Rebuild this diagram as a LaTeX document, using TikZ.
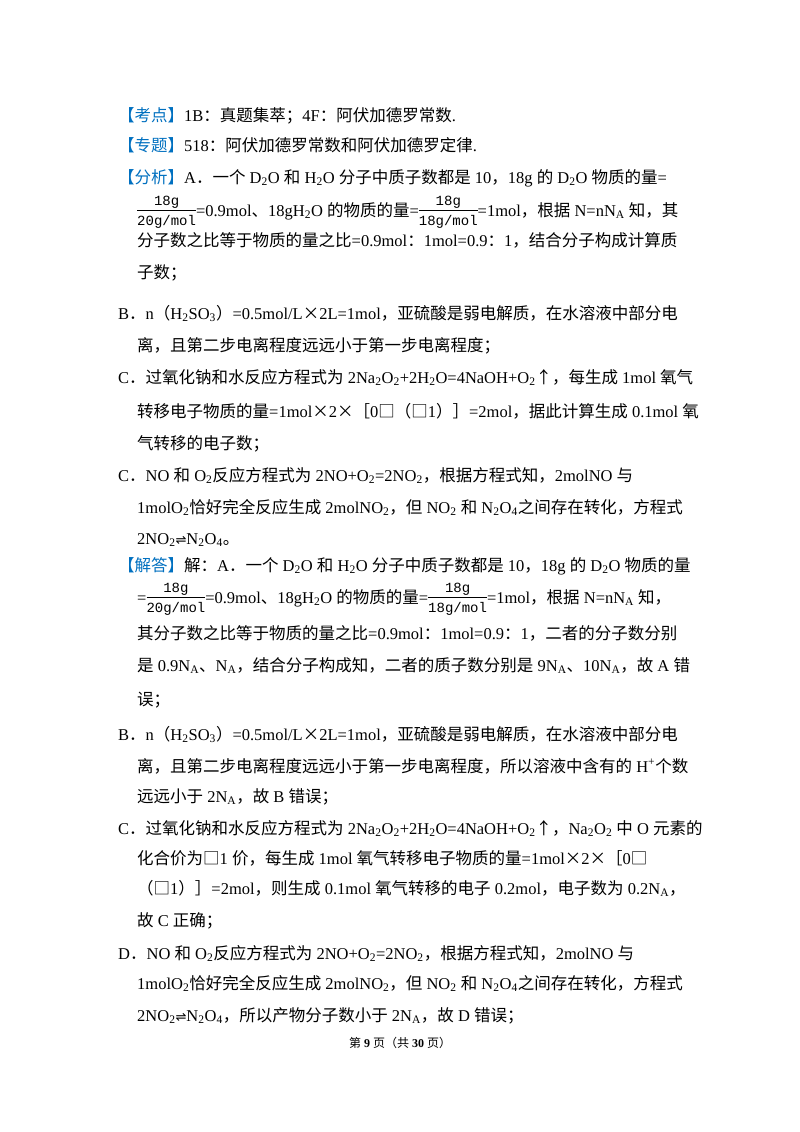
\documentclass[tikz,border=0pt]{standalone}
\usepackage{fontspec}
\setmainfont{Liberation Serif}
\newfontfamily\cjk{Noto Sans CJK SC}
\newfontfamily\lat{Liberation Serif}
\newfontfamily\mono{Liberation Mono}
\newfontfamily\dv{DejaVu Sans}
\XeTeXinterchartokenstate=1
\newXeTeXintercharclass\cjkclass
\newcount\cc
\cc="4E00 \loop\ifnum\cc<"A000 \XeTeXcharclass\cc=\cjkclass \advance\cc by1 \repeat
\cc="3000 \loop\ifnum\cc<"3040 \XeTeXcharclass\cc=\cjkclass \advance\cc by1 \repeat
\cc="FF00 \loop\ifnum\cc<"FF60 \XeTeXcharclass\cc=\cjkclass \advance\cc by1 \repeat
\XeTeXcharclass"25A1=\cjkclass
\XeTeXcharclass"00D7=\cjkclass
\XeTeXcharclass"2191=\cjkclass
\XeTeXinterchartoks 0 \cjkclass={\cjk}
\XeTeXinterchartoks 4095 \cjkclass={\cjk}
\XeTeXinterchartoks \cjkclass 0={\lat}
\XeTeXinterchartoks \cjkclass 4095={\lat}
\definecolor{kblue}{RGB}{0,112,192}
\newcommand{\sub}[1]{\textsubscript{#1}}
\newcommand{\fr}[2]{\ensuremath{\vcenter{\hbox{\begin{tabular}{@{}c@{}}\mono\fontsize{14}{14}\selectfont #1\\[-1pt]\hline\rule{0pt}{15pt}\mono\fontsize{14}{14}\selectfont #2\end{tabular}}}}}
\newcommand{\hd}[1]{\textcolor{kblue}{#1}}
\begin{document}
\begin{tikzpicture}[x=1pt,y=-1pt,every node/.style={anchor=base west,inner sep=0pt,font=\fontsize{16.5}{20}\selectfont}]
\fill[white] (0,0) rectangle (800,1132);
\useasboundingbox (0,0) rectangle (800,1132);
\def\ya{6}
\node (l1) at (118,115+\ya) {\hd{【考点】}1B：真题集萃；4F：阿伏加德罗常数.};
\node (l2) at (118,145+\ya) {\hd{【专题】}518：阿伏加德罗常数和阿伏加德罗定律.};
\node (l3) at (118,177+\ya) {\hd{【分析】}A．一个 D\sub{2}O 和 H\sub{2}O 分子中质子数都是 10，18g 的 D\sub{2}O 物质的量=};
\node (l4) at (137,210+\ya) {\fr{18g}{20g/mol}=0.9mol、18gH\sub{2}O 的物质的量=\fr{18g}{18g/mol}=1mol，根据 N=nN\sub{A} 知，其};
\node (l5) at (137,240+\ya) {分子数之比等于物质的量之比=0.9mol：1mol=0.9：1，结合分子构成计算质};
\node (l6) at (137,272+\ya) {子数；};
\node (l7) at (118,313+\ya) {B．n（H\sub{2}SO\sub{3}）=0.5mol/L×2L=1mol，亚硫酸是弱电解质，在水溶液中部分电};
\node (l8) at (137,345+\ya) {离，且第二步电离程度远远小于第一步电离程度；};
\node (l9) at (118,377+\ya) {C．过氧化钠和水反应方程式为 2Na\sub{2}O\sub{2}+2H\sub{2}O=4NaOH+O\sub{2}↑，每生成 1mol 氧气};
\node (l10) at (137,411+\ya) {转移电子物质的量=1mol×2×［0□（□1）］=2mol，据此计算生成 0.1mol 氧};
\node (l11) at (137,443+\ya) {气转移的电子数；};
\node (l12) at (118,475+\ya) {C．NO 和 O\sub{2}反应方程式为 2NO+O\sub{2}=2NO\sub{2}，根据方程式知，2molNO 与};
\node (l13) at (137,507+\ya) {1molO\sub{2}恰好完全反应生成 2molNO\sub{2}，但 NO\sub{2} 和 N\sub{2}O\sub{4}之间存在转化，方程式};
\node (l14) at (137,538+\ya) {2NO\sub{2}{\dv\fontsize{13}{13}\selectfont ⇌}N\sub{2}O\sub{4}。};
\node (l15) at (118,565+\ya) {\hd{【解答】}解：A．一个 D\sub{2}O 和 H\sub{2}O 分子中质子数都是 10，18g 的 D\sub{2}O 物质的量};
\node (l16) at (137,597+\ya) {=\fr{18g}{20g/mol}=0.9mol、18gH\sub{2}O 的物质的量=\fr{18g}{18g/mol}=1mol，根据 N=nN\sub{A} 知，};
\node (l17) at (137,633+\ya) {其分子数之比等于物质的量之比=0.9mol：1mol=0.9：1，二者的分子数分别};
\node (l18) at (137,665+\ya) {是 0.9N\sub{A}、N\sub{A}，结合分子构成知，二者的质子数分别是 9N\sub{A}、10N\sub{A}，故 A 错};
\node (l19) at (137,699+\ya) {误；};
\node (l20) at (118,734+\ya) {B．n（H\sub{2}SO\sub{3}）=0.5mol/L×2L=1mol，亚硫酸是弱电解质，在水溶液中部分电};
\node (l21) at (137,766+\ya) {离，且第二步电离程度远远小于第一步电离程度，所以溶液中含有的 H\textsuperscript{+}个数};
\node (l22) at (137,796+\ya) {远远小于 2N\sub{A}，故 B 错误；};
\node (l23) at (118,828+\ya) {C．过氧化钠和水反应方程式为 2Na\sub{2}O\sub{2}+2H\sub{2}O=4NaOH+O\sub{2}↑，Na\sub{2}O\sub{2} 中 O 元素的};
\node (l24) at (137,858+\ya) {化合价为□1 价，每生成 1mol 氧气转移电子物质的量=1mol×2×［0□};
\node (l25) at (137,888+\ya) {（□1）］=2mol，则生成 0.1mol 氧气转移的电子 0.2mol，电子数为 0.2N\sub{A}，};
\node (l26) at (137,920+\ya) {故 C 正确；};
\node (l27) at (118,953+\ya) {D．NO 和 O\sub{2}反应方程式为 2NO+O\sub{2}=2NO\sub{2}，根据方程式知，2molNO 与};
\node (l28) at (137,983+\ya) {1molO\sub{2}恰好完全反应生成 2molNO\sub{2}，但 NO\sub{2} 和 N\sub{2}O\sub{4}之间存在转化，方程式};
\node (l29) at (137,1015+\ya) {2NO\sub{2}{\dv\fontsize{13}{13}\selectfont ⇌}N\sub{2}O\sub{4}，所以产物分子数小于 2N\sub{A}，故 D 错误；};
\node[anchor=base,font=\fontsize{12}{14}\selectfont] (ft) at (400,1047) {第 \textbf{9} 页（共 \textbf{30} 页）};
\end{tikzpicture}
\end{document}
